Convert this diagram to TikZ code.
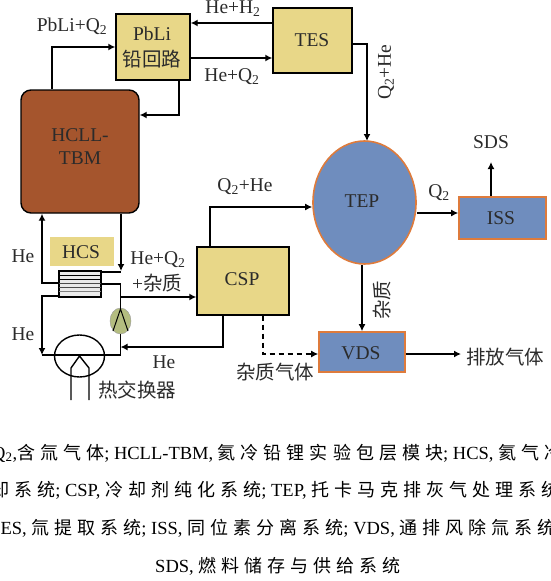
\documentclass[tikz,border=0pt]{standalone}
\usepackage{fontspec}
\setmainfont{Liberation Serif}
\newfontfamily\cjk{Noto Sans CJK SC}
\newfontfamily\capcjk[LetterSpace=28]{Noto Sans CJK SC}
\usetikzlibrary{arrows.meta}
\usetikzlibrary{shapes.geometric}
\newcommand{\zh}[1]{{\capcjk\fontsize{18}{20}\selectfont #1}}
\definecolor{boxyellow}{HTML}{E8D788}
\definecolor{boxblue}{HTML}{6F8DBE}
\definecolor{boxedge}{HTML}{DE7B3C}
\definecolor{tbmbrown}{HTML}{A5552D}
\definecolor{pumpgreen}{HTML}{B4BD80}
\definecolor{inktext}{HTML}{2B2B2B}

\begin{document}
\begin{tikzpicture}[x=1pt,y=-1pt,
  yellowbox/.style={draw=black,line width=1.4pt,fill=boxyellow,inner sep=0pt},
  bluebox/.style={draw=boxedge,line width=1.6pt,fill=boxblue,inner sep=0pt},
  flow/.style={draw=black,line width=1.4pt,-{Latex[length=7pt,width=7pt]}},
  pipe/.style={draw=black,line width=1.4pt},
  label/.style={inner sep=0pt,text=inktext,font=\fontsize{19.5}{22}\selectfont},
  zhlabel/.style={inner sep=0pt,text=inktext,font=\cjk\fontsize{19.5}{22}\selectfont},
  captext/.style={inner sep=0pt,text=black,font=\fontsize{18.5}{20}\selectfont}]
\useasboundingbox (0,0) rectangle (550,581);
\clip (0,0) rectangle (550,581);

\node[yellowbox,minimum width=74pt,minimum height=66pt] (pbli) at (153,47) {};
\node[yellowbox,minimum width=79pt,minimum height=65pt] (tes) at (312.5,40.5) {};
\node[draw=black,line width=1.4pt,fill=tbmbrown,rounded corners=10pt,inner sep=0pt,minimum width=118pt,minimum height=123pt] (hcll) at (80,151.5) {};
\node[yellowbox,minimum width=92pt,minimum height=68pt] (csp) at (243,281) {};
\node[bluebox,ellipse,minimum width=103pt,minimum height=123pt] (tep) at (364.5,202.5) {};
\node[bluebox,minimum width=87pt,minimum height=42pt] (iss) at (502.5,218) {};
\node[bluebox,minimum width=86pt,minimum height=40pt] (vds) at (362,352) {};
\node[fill=boxyellow,inner sep=0pt,minimum width=64pt,minimum height=29pt] (hcs) at (82,251.5) {};

% heat exchanger stack
\node[draw=black,line width=1.4pt,fill=black!8,inner sep=0pt,minimum width=42pt,minimum height=26pt] (stack) at (80,284) {};
\draw [draw=black,line width=1pt] (59,275) -- (101,275);
\draw [draw=black,line width=1pt] (59,279) -- (101,279);
\draw [draw=black!70] (59,283) -- (101,283);
\draw [draw=black!70] (59,287) -- (101,287);
\draw [draw=black!50] (59,291) -- (101,291);

\node[draw=black!40,line width=0.4pt,fill=pumpgreen,ellipse,inner sep=0pt,minimum width=21pt,minimum height=26pt] (pump) at (120.5,321) {};
\draw [draw=black,line width=1pt] (113,331) -- (120.5,309) -- (128,331);

\node[draw=black,line width=1.4pt,ellipse,inner sep=0pt,minimum width=50pt,minimum height=42pt] (hex) at (79.5,356) {};

\coordinate (hexleft) at (42,355);
\coordinate (hexright) at (120.5,355);
\coordinate (splitup) at (120.5,297);
\coordinate (tubea) at (71,400);
\coordinate (tubeb) at (89,400);
\coordinate (sdsend) at (491,162);
\coordinate (ventend) at (461,354);
\coordinate (tepin) at (367,141);

\draw[flow] (hcll.north -| 52,0) -- (52,47) -- (pbli.west |- 0,47);
\draw[flow] (pbli.south -| 179,0) -- (179,115) -- (hcll.east |- 0,115);
\draw[flow] (tes.west |- 0,23) -- (pbli.east |- 0,23);
\draw[flow] (pbli.east |- 0,58) -- (tes.west |- 0,58);
\draw[flow] (tes.east |- 0,44) -- (367,44) -- (tepin);
\draw[flow] (tep.east |- 0,213) -- (iss.west |- 0,213);
\draw[flow] (iss.north -| sdsend) -- (sdsend);
\draw[flow] (tep.south -| vds.north) -- (vds.north);
\draw[flow] (vds.east |- ventend) -- (ventend);
\draw[flow] (csp.north -| 210,0) -- (210,207) -- (tep.west |- 0,207);
\draw[flow] (csp.south -| 223,0) -- (223,347) -- (hexright |- 0,347);
\draw[flow,dash pattern=on 5pt off 4pt] (csp.south -| 263,0) -- (263,354) -- (vds.west |- 0,354);

\draw[flow] (stack.west |- 0,283) -- (42,283) -- (hcll.south -| 42,0);
\draw[flow] (hcll.south -| 121,0) -- (121,271);
\draw[pipe] (stack.east |- 0,272) -- (121,272);
\draw[pipe] (stack.east |- 0,284) -- (120.5,284) -- (pump.north);
\draw[pipe] (pump.south) -- (hexright);
\draw[flow] (stack.west |- 0,296) -- (42,296) -- (hexleft);
\draw[pipe] (hexleft) -- (hexright);
\draw[flow] (splitup) -- (csp.west |- splitup);
\draw[pipe] (tubea) -- (71,368) -- (79.5,356) -- (89,368) -- (tubeb);

\node[label] (pbliname) at (152,34) {PbLi};
\node[zhlabel] (pbliloop) at (152,59) {铅回路};
\node[label] (tesname) at (312,40) {TES};
\node[label] (hcllname) at (80,135) {HCLL-};
\node[label] (tbmname) at (80,158) {TBM};
\node[label] (hcsname) at (81,252) {HCS};
\node[label] (cspname) at (242,279) {CSP};
\node[label] (tepname) at (362,201) {TEP};
\node[label] (issname) at (501,218) {ISS};
\node[label] (vdsname) at (361,353) {VDS};

\node[label] (pbliq) at (72,26) {PbLi+Q\textsubscript{2}};
\node[label] (heh) at (233,9) {He+H\textsubscript{2}};
\node[label] (heq) at (232,77) {He+Q\textsubscript{2}};
\node[label] (qhetop) at (245,187) {Q\textsubscript{2}+He};
\node[label,rotate=90] (qheside) at (386,72) {Q\textsubscript{2}+He};
\node[label] (qtwo) at (439,193) {Q\textsubscript{2}};
\node[label] (sds) at (491,142) {SDS};
\node[label] (heupper) at (23,256) {He};
\node[label] (helower) at (23,334) {He};
\node[label] (hereturn) at (164,362) {He};
\node[label] (heqimp) at (158,260) {He+Q\textsubscript{2}};
\node[label] (plusimp) at (157,283) {+{\cjk 杂质}};
\node[zhlabel,rotate=90] (impside) at (382,300) {杂质};
\node[zhlabel] (impgas) at (275,372) {杂质气体};
\node[zhlabel] (exhaust) at (505,357) {排放气体};
\node[zhlabel] (hexname) at (137,390) {热交换器};

\node[captext,anchor=west] (capa) at (-8,453) {Q\textsubscript{2},\zh{含氚气体}; HCLL-TBM, \zh{氦冷铅锂实验包层模块}; HCS, \zh{氦气冷}};
\node[captext,anchor=west] (capb) at (-9,490) {\zh{却系统}; CSP, \zh{冷却剂纯化系统}; TEP, \zh{托卡马克排灰气处理系统}};
\node[captext,anchor=west] (capc) at (-11,528) {TES, \zh{氚提取系统}; ISS, \zh{同位素分离系统}; VDS, \zh{通排风除氚系统}};
\node[captext] (capd) at (278,566) {SDS, \zh{燃料储存与供给系统}};
\end{tikzpicture}
\end{document}
